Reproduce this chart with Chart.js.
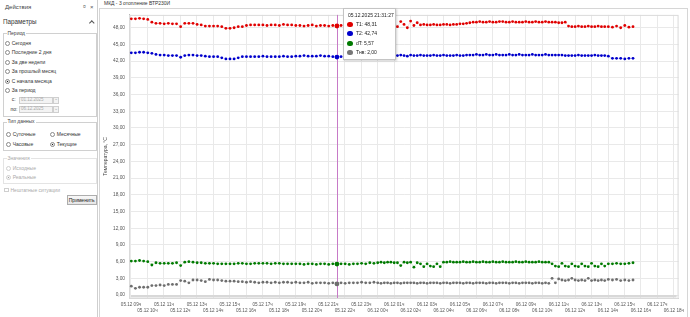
<!DOCTYPE html>
<html>
<head>
<meta charset="utf-8">
<script src="https://cdn.jsdelivr.net/npm/chart.js@4"></script>
<style>
  body { margin: 0; width: 690px; height: 317px; overflow: hidden; background: #fff; position: relative;
         font-family: 'Liberation Sans', Arial, sans-serif; }
  .a { position: absolute; white-space: nowrap; line-height: 1; color: #333; font-size: 5px; }
  .r { position: absolute; box-sizing: border-box; width: 5px; height: 5px; border: 0.7px solid #8a8a8a;
       border-radius: 50%; background: #fff; }
  .r.on { background: radial-gradient(circle, #1a1a1a 0 40%, #fff 48%); }
  .g { position: absolute; box-sizing: border-box; border: 0.7px solid #d0d0d0; }
  .gl { position: absolute; background: #fff; padding: 0 1px; font-size: 5px; line-height: 1; color: #444; }
  .dis { color: #aaa; }
  .box { position: absolute; box-sizing: border-box; border: 0.7px solid #cfcfcf; background: #f3f3f3; }
  #frame { position: absolute; left: 99px; top: 8px; width: 589px; height: 312px; box-sizing: border-box;
           border: 1px solid #d6d6d6; }
  #wrap { position: absolute; left: 98px; top: 8px; width: 590px; height: 309px; }
  #tip { position: absolute; top: 8px; width: 53px; height: 52px; box-sizing: border-box; background: #fff;
         border: 0.8px solid #c4c4c4; box-shadow: 1px 1px 2px rgba(0,0,0,0.18); }
  #tip .a { font-size: 5px; color: #222; }
  #tip .dot { position: absolute; width: 5.4px; height: 5.4px; border-radius: 50%; }
</style>
</head>
<body>
<!-- left panel -->
<div style="position:absolute;left:97px;top:0;width:1px;height:317px;background:#cfcfcf"></div>
<div class="a" style="left:5px;top:3.5px;font-size:6px;color:#444">Действия</div>
<div class="a" style="left:83px;top:4px;font-size:5px;color:#666">¤</div>
<div class="a" style="left:90px;top:3.5px;font-size:6px;color:#555">×</div>
<div class="a" style="left:3px;top:18.5px;font-size:6.3px;color:#333">Параметры</div>
<div style="position:absolute;left:90px;top:20.5px;width:2.6px;height:2.6px;border-left:0.8px solid #555;border-top:0.8px solid #555;transform:rotate(45deg)"></div>

<div class="g" style="left:3px;top:33px;width:94px;height:84px"></div>
<div class="gl" style="left:6.5px;top:30.5px">Период</div>
<div class="r" style="left:5px;top:40.8px"></div><div class="a" style="left:11.7px;top:40.8px">Сегодня</div>
<div class="r" style="left:5px;top:50.2px"></div><div class="a" style="left:11.7px;top:50.2px">Последние 2 дня</div>
<div class="r" style="left:5px;top:59.5px"></div><div class="a" style="left:11.7px;top:59.5px">За две недели</div>
<div class="r" style="left:5px;top:69.2px"></div><div class="a" style="left:11.7px;top:69.2px">За прошлый месяц</div>
<div class="r on" style="left:5px;top:78.5px"></div><div class="a" style="left:11.7px;top:78.5px">С начала месяца</div>
<div class="r" style="left:5px;top:87.8px"></div><div class="a" style="left:11.7px;top:87.8px">За период</div>
<div class="a" style="left:11.7px;top:97.2px">с:</div>
<div class="box" style="left:19px;top:96.5px;width:34px;height:7px"></div>
<div class="a dis" style="left:21px;top:97.6px;font-size:4.5px">01.12.2025</div>
<div class="box" style="left:52.5px;top:96.5px;width:6.5px;height:7px"></div>
<div class="a dis" style="left:54px;top:97.3px;font-size:4.5px">⌄</div>
<div class="a" style="left:10.5px;top:106.5px">по:</div>
<div class="box" style="left:19px;top:106px;width:34px;height:7px"></div>
<div class="a dis" style="left:21px;top:107.1px;font-size:4.5px">06.12.2025</div>
<div class="box" style="left:52.5px;top:106px;width:6.5px;height:7px"></div>
<div class="a dis" style="left:54px;top:106.8px;font-size:4.5px">⌄</div>

<div class="g" style="left:3px;top:121.7px;width:94px;height:29px"></div>
<div class="gl" style="left:6.5px;top:119.2px">Тип данных</div>
<div class="r" style="left:6px;top:131.5px"></div><div class="a" style="left:12.7px;top:131.5px">Суточные</div>
<div class="r" style="left:50px;top:131.5px"></div><div class="a" style="left:56.7px;top:131.5px">Месячные</div>
<div class="r" style="left:6px;top:142.2px"></div><div class="a" style="left:12.7px;top:142.2px">Часовые</div>
<div class="r on" style="left:50px;top:142.2px"></div><div class="a" style="left:56.7px;top:142.2px">Текущие</div>

<div class="g" style="left:3px;top:158.3px;width:94px;height:26px;border-color:#e4e4e4"></div>
<div class="gl dis" style="left:6.5px;top:155.8px">Значения</div>
<div class="r" style="left:6px;top:166.2px;border-color:#d0d0d0"></div><div class="a dis" style="left:12.7px;top:166.2px">Исходные</div>
<div class="r on" style="left:6px;top:175.2px;border-color:#d0d0d0;background:radial-gradient(circle,#a0a0a0 0 40%,#fff 48%)"></div><div class="a dis" style="left:12.7px;top:175.2px">Реальные</div>
<div style="position:absolute;left:4px;top:187.8px;width:4.5px;height:4.5px;box-sizing:border-box;border:0.7px solid #cfcfcf"></div>
<div class="a dis" style="left:10.5px;top:187.5px">Нештатные ситуации</div>
<div style="position:absolute;left:66.7px;top:195px;width:30px;height:10px;box-sizing:border-box;border:0.8px solid #adadad;background:linear-gradient(#f8f8f8,#e6e6e6);font-size:5px;line-height:8.4px;text-align:center;color:#222">Применить</div>

<!-- chart -->
<div class="a" style="left:104px;top:1px;font-size:5px;color:#333">МКД - 3 отопление ВТР230И</div>
<div id="frame"></div>
<div id="wrap"><canvas id="chart"></canvas></div>
<div id="tip"></div>

<script>
// hours counted from 05.12 00:00
const hours = [
  9.02, 9.27, 9.52, 9.77, 10.02, 10.27, 10.52, 10.77, 11.02, 11.27,
  11.52, 11.77, 12.02, 12.27, 12.52, 12.77, 13.02, 13.27, 13.52, 13.77,
  14.02, 14.27, 14.52, 14.77, 15.02, 15.27, 15.52, 15.77, 16.02, 16.27,
  16.52, 16.77, 17.02, 17.27, 17.52, 17.77, 18.02, 18.27, 18.52, 18.77,
  19.02, 19.27, 19.52, 19.77, 20.02, 20.27, 20.52, 20.77, 21.02, 21.27,
  21.52, 21.77, 22.02, 22.27, 22.52, 22.77, 23.02, 23.27, 23.52, 23.77,
  24.0, 24.2, 24.4, 24.6, 24.8, 25.0, 25.2, 25.4, 25.6, 25.8,
  26.0, 26.2, 26.4, 26.6, 26.8, 27.0, 27.2, 27.4, 27.6, 27.8,
  28.0, 28.2, 28.4, 28.6, 28.8, 29.0, 29.2, 29.4, 29.6, 29.8,
  30.0, 30.2, 30.4, 30.6, 30.8, 31.0, 31.2, 31.4, 31.6, 31.8,
  32.0, 32.2, 32.4, 32.6, 32.8, 33.0, 33.2, 33.4, 33.6, 33.8,
  34.0, 34.2, 34.4, 34.6, 34.8, 35.0, 35.2, 35.4, 35.6, 35.8,
  36.0, 36.2, 36.4, 36.6, 36.8, 37.0, 37.2, 37.4, 37.6, 37.8,
  38.02, 38.27, 38.52, 38.77, 39.02, 39.27, 39.52
];

const t1 = [
  49.6, 49.6, 49.7, 49.6, 49.5, 49.0, 48.8, 48.8, 48.7, 48.8,
  48.7, 48.7, 48.2, 48.8, 48.8, 48.8, 48.6, 48.5, 48.3, 48.3,
  48.3, 48.3, 48.2, 47.9, 47.9, 48.0, 48.2, 48.2, 48.4, 48.5,
  48.5, 48.5, 48.5, 48.4, 48.5, 48.5, 48.4, 48.6, 48.5, 48.5,
  48.4, 48.4, 48.3, 48.4, 48.5, 48.3, 48.4, 48.4, 48.3, 48.4,
  48.31, 48.4, 48.5, 48.4, 48.6, 48.5, 48.7, 48.6, 48.8, 48.7,
  48.8, 48.9, 48.8, 48.9, 48.9, 49.0, 48.2, 49.1, 48.6, 48.0,
  49.2, 48.4, 48.9, 48.5, 48.6, 48.5, 48.5, 48.6, 48.5, 48.5,
  48.6, 48.6, 48.5, 48.6, 48.6, 48.7, 48.7, 48.8, 48.9, 49.0,
  49.0, 49.1, 49.0, 49.0, 49.1, 49.0, 49.0, 49.1, 49.1, 49.0,
  49.0, 49.1, 49.0, 49.0, 49.0, 49.1, 49.0, 49.0, 49.1, 49.0,
  49.0, 49.1, 49.0, 49.0, 49.0, 48.9, 48.9, 49.0, 48.3, 48.2,
  48.2, 48.3, 48.2, 48.2, 48.3, 48.2, 48.2, 48.3, 48.2, 48.2,
  48.2, 48.1, 48.3, 48.0, 48.4, 48.1, 48.2
];

const t2 = [
  43.5, 43.5, 43.6, 43.6, 43.5, 43.4, 43.2, 43.1, 43.1, 43.0,
  43.0, 43.0, 42.7, 43.0, 43.1, 43.1, 43.0, 43.0, 42.9, 42.8,
  42.8, 42.8, 42.6, 42.4, 42.4, 42.4, 42.6, 42.8, 42.8, 42.8,
  42.8, 42.8, 42.9, 42.8, 42.8, 42.8, 42.8, 42.9, 42.8, 42.8,
  42.9, 42.9, 43.0, 42.9, 42.9, 42.9, 43.0, 42.9, 42.9, 42.8,
  42.74, 42.8, 42.9, 42.9, 43.0, 42.9, 43.0, 43.0, 43.0, 43.0,
  43.0, 43.0, 43.0, 43.0, 43.1, 43.0, 43.0, 43.1, 43.0, 42.9,
  43.1, 43.0, 43.0, 43.1, 43.0, 43.0, 43.0, 43.1, 43.0, 43.0,
  43.1, 43.0, 43.0, 43.0, 43.1, 43.0, 43.0, 43.1, 43.1, 43.1,
  43.2, 43.1, 43.1, 43.2, 43.1, 43.1, 43.2, 43.1, 43.1, 43.1,
  43.2, 43.1, 43.1, 43.2, 43.1, 43.1, 43.1, 43.2, 43.1, 43.1,
  43.1, 43.2, 43.1, 43.1, 43.1, 43.1, 43.1, 43.0, 43.0, 43.0,
  43.0, 43.1, 43.0, 43.0, 43.0, 43.0, 43.1, 43.0, 43.0, 43.0,
  42.9, 42.5, 42.5, 42.5, 42.4, 42.5, 42.5
];

const dT = [
  6.1, 6.1, 6.2, 6.1, 6.0, 5.4, 5.8, 5.7, 5.7, 5.7,
  5.7, 5.8, 5.3, 5.9, 6.0, 5.9, 5.8, 5.8, 5.7, 5.7,
  5.7, 5.6, 5.6, 5.6, 5.6, 5.6, 5.7, 5.7, 5.6, 5.6,
  5.7, 5.7, 5.7, 5.7, 5.6, 5.7, 5.7, 5.6, 5.6, 5.6,
  5.6, 5.6, 5.5, 5.6, 5.6, 5.5, 5.6, 5.6, 5.5, 5.6,
  5.57, 5.6, 5.6, 5.5, 5.6, 5.6, 5.7, 5.6, 5.8, 5.7,
  5.8, 5.9, 5.8, 5.9, 5.9, 5.8, 5.8, 5.3, 5.9, 5.8,
  5.9, 5.0, 5.8, 5.6, 5.1, 5.6, 5.2, 5.1, 5.6, 5.1,
  5.9, 5.9, 6.0, 5.9, 5.9, 5.9, 6.0, 5.9, 5.9, 6.0,
  5.9, 5.9, 6.0, 5.9, 5.9, 6.0, 5.9, 5.9, 6.0, 5.9,
  5.9, 5.9, 6.0, 5.9, 5.9, 6.0, 5.9, 5.9, 5.9, 6.0,
  5.9, 5.9, 5.9, 5.6, 5.2, 5.1, 5.7, 5.2, 5.1, 5.6,
  5.2, 5.1, 5.6, 5.2, 5.1, 5.7, 5.2, 5.1, 5.6, 5.2,
  5.6, 5.6, 5.7, 5.6, 5.6, 5.7, 5.8
];

const tnv = [
  1.6, 1.2, 1.4, 1.4, 1.4, 1.7, 1.7, 1.8, 1.7, 1.9,
  1.9, 1.9, 2.6, 2.5, 2.2, 2.7, 2.7, 2.6, 2.4, 2.8,
  2.7, 2.7, 2.6, 2.5, 2.5, 2.5, 2.4, 2.4, 2.3, 2.4,
  2.3, 2.2, 2.3, 2.3, 2.2, 2.3, 2.2, 2.3, 2.3, 2.2,
  2.3, 2.2, 2.2, 2.3, 2.1, 2.2, 2.2, 2.2, 2.1, 2.2,
  2.00, 2.2, 2.1, 2.2, 2.2, 2.2, 2.3, 2.2, 2.2, 2.3,
  2.2, 2.1, 2.2, 2.2, 2.1, 2.2, 2.2, 2.1, 2.2, 2.2,
  2.2, 2.2, 2.1, 2.2, 2.2, 2.1, 2.2, 2.2, 2.2, 2.1,
  2.2, 2.2, 2.1, 2.2, 2.2, 2.2, 2.1, 2.2, 2.2, 2.1,
  2.2, 2.2, 2.2, 2.1, 2.2, 2.2, 2.1, 2.2, 2.2, 2.2,
  2.1, 2.2, 2.2, 2.1, 2.2, 2.2, 2.2, 2.1, 2.2, 2.2,
  2.1, 2.2, 2.1, 3.0, 2.2, 2.9, 2.7, 2.6, 2.7, 3.0,
  2.7, 2.6, 2.7, 2.6, 3.0, 2.6, 2.7, 2.6, 2.7, 2.6,
  2.8, 2.7, 2.8, 2.6, 2.7, 2.6, 2.7
];

const cursorTime = 21.52;
const cursorLabel = '05.12.2025 21:31:27';

Chart.defaults.font.family = "'Liberation Sans', Arial, sans-serif";
Chart.defaults.font.size = 4.8;

const fmt = v => v.toFixed(2).replace('.', ',');

function series(label, values, color, line) {
  return {
    label: label,
    data: hours.map((h, i) => ({ x: h, y: values[i] })),
    showLine: true,
    borderColor: line,
    borderWidth: 0.4,
    pointBackgroundColor: color,
    pointBorderWidth: 0,
    pointRadius: ctx => hours[ctx.dataIndex] === cursorTime ? 2.4 : 1.4
  };
}

const overlay = {
  id: 'overlay',
  beforeDatasetsDraw(chart) {
    const { ctx, chartArea: a, scales: { x } } = chart;
    ctx.save();
    ctx.strokeStyle = '#dadada';
    ctx.lineWidth = 1;
    ctx.strokeRect(a.left + 0.5, a.top + 0.5, a.right - a.left - 1, a.bottom - a.top);
    ctx.fillStyle = '#d8d8d8';
    ctx.fillRect(a.left + 2, a.bottom - 3, a.right - a.left - 4, 2.5);
    const cx = Math.round(x.getPixelForValue(cursorTime)) + 0.5;
    ctx.strokeStyle = '#c77ac7';
    ctx.beginPath();
    ctx.moveTo(cx, a.top);
    ctx.lineTo(cx, a.bottom);
    ctx.stroke();
    ctx.restore();
  }
};

const chart = new Chart(document.getElementById('chart'), {
  type: 'scatter',
  data: {
    datasets: [
      series('T1', t1, '#e00000', 'rgba(224,0,0,0.35)'),
      series('T2', t2, '#0000cc', 'rgba(0,0,204,0.35)'),
      series('dT', dT, '#007a00', 'rgba(40,160,40,0.5)'),
      series('Тнв', tnv, '#6e6e6e', 'rgba(110,110,110,0.3)')
    ]
  },
  options: {
    responsive: true,
    maintainAspectRatio: false,
    animation: false,
    events: [],
    layout: { padding: { top: 4, right: 6, left: 0, bottom: 0 } },
    plugins: { legend: { display: false }, tooltip: { enabled: false } },
    scales: {
      x: {
        type: 'linear',
        min: 8.88,
        max: 42.29,
        afterFit: s => { s.height = 19; },
        grid: { color: '#e9e9e9', drawTicks: false },
        border: { color: '#cfcfcf' },
        ticks: {
          stepSize: 1,
          includeBounds: false,
          autoSkip: false,
          maxRotation: 0,
          padding: 4,
          color: '#555',
          font: { size: 4.6, lineHeight: 1.2 },
          callback: v => {
            const s = (v < 24 ? '05.12' : '06.12') + ' ' + String(v % 24).padStart(2, '0') + 'ч';
            return (v - 9) % 2 === 0 ? [s, ''] : ['', s];
          }
        }
      },
      y: {
        min: -0.53,
        max: 50.31,
        afterFit: s => { s.width = 31; },
        grid: { color: '#e9e9e9', drawTicks: false },
        border: { color: '#b4b4b4' },
        title: { display: true, text: 'Температура, °С', color: '#444', font: { size: 5 }, padding: { top: 5, bottom: 0 } },
        ticks: {
          stepSize: 3,
          includeBounds: false,
          padding: 4,
          color: '#555',
          callback: v => fmt(v)
        }
      }
    }
  },
  plugins: [overlay]
});

// hover box at the cursor time
const i = hours.indexOf(cursorTime);
const rows = [
  ['T1', t1[i], '#e00000'],
  ['T2', t2[i], '#0000cc'],
  ['dT', dT[i], '#007a00'],
  ['Тнв', tnv[i], '#777777']
];
const tip = document.getElementById('tip');
tip.style.left = (98 + chart.scales.x.getPixelForValue(cursorTime) + 6) + 'px';
let html = '<div class="a" style="left:4px;top:3.5px">' + cursorLabel + '</div>';
const rowY = [15.3, 24.3, 34.3, 43.7];
rows.forEach((r, k) => {
  html += '<div class="dot" style="left:3.5px;top:' + (rowY[k] - 2.7) + 'px;background:' + r[2] + '"></div>' +
          '<div class="a" style="left:12px;top:' + (rowY[k] - 2.5) + 'px">' + r[0] + ': ' + fmt(r[1]) + '</div>';
});
tip.innerHTML = html;
</script>
</body>
</html>
